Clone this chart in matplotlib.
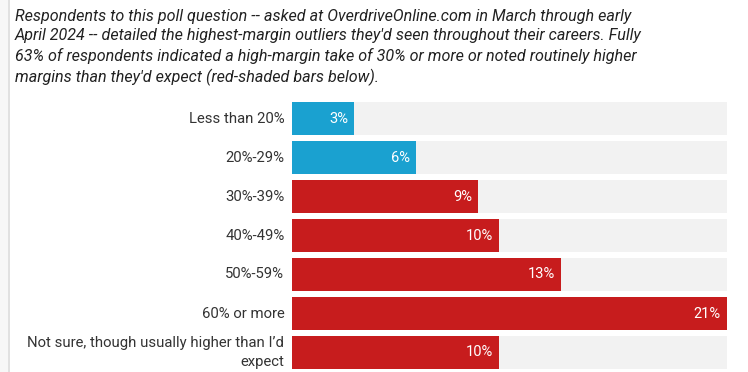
import matplotlib.pyplot as plt
from matplotlib.patches import Rectangle
from matplotlib.lines import Line2D

categories = [
    "Less than 20%",
    "20%-29%",
    "30%-39%",
    "40%-49%",
    "50%-59%",
    "60% or more",
    "Not sure, though usually higher than I\u2019d\nexpect",
]
values = [3, 6, 9, 10, 13, 21, 10]
highlight = [False, False, True, True, True, True, True]

title = ("Respondents to this poll question -- asked at OverdriveOnline.com in March through early\n"
         "April 2024 -- detailed the highest-margin outliers they'd seen throughout their careers. Fully\n"
         "63% of respondents indicated a high-margin take of 30% or more or noted routinely higher\n"
         "margins than they'd expect (red-shaded bars below).")

BLUE = "#1aa1d0"
RED = "#c71c1d"
TRACK = "#f2f2f2"

W, H = 748, 372
fig = plt.figure(figsize=(W / 100, H / 100), dpi=100)
fig.patch.set_facecolor("white")

# left page border
fig.add_artist(Rectangle((0, 0), 8 / W, 1, transform=fig.transFigure,
                         facecolor="#f7f7f7", edgecolor="none"))
fig.add_artist(Line2D([8.5 / W, 8.5 / W], [0, 1], transform=fig.transFigure,
                      color="#dcdcdc", lw=1.2))

fig.text(15 / W, 1 - 9 / H, title, ha="left", va="top", fontsize=11.6,
         family="Roboto", style="italic", color="#222222", linespacing=1.35)

ax = fig.add_axes([292 / W, 0, 435 / W, 273 / H])
n = len(categories)
ypos = list(range(n))
vmax = max(values)
ax.barh(ypos, [vmax] * n, height=0.87, color=TRACK, zorder=1)
ax.barh(ypos, values, height=0.87,
        color=[RED if h else BLUE for h in highlight], zorder=2)
ax.set_xlim(0, vmax)
ax.set_ylim(n - 0.5, -0.5)
ax.axis("off")

for y, v, lab in zip(ypos, values, categories):
    ax.annotate(f"{v}%", (v, y), xytext=(-4.5, 0), textcoords="offset points",
                ha="right", va="center", color="white", fontsize=10.5,
                family="Roboto", zorder=3)
    ax.annotate(lab, (0, y), xytext=(-5.5, 0), textcoords="offset points",
                ha="right", va="center", color="#333333", fontsize=10.7,
                family="Roboto", linespacing=1.4)

fig.savefig("out.png", dpi=100)
